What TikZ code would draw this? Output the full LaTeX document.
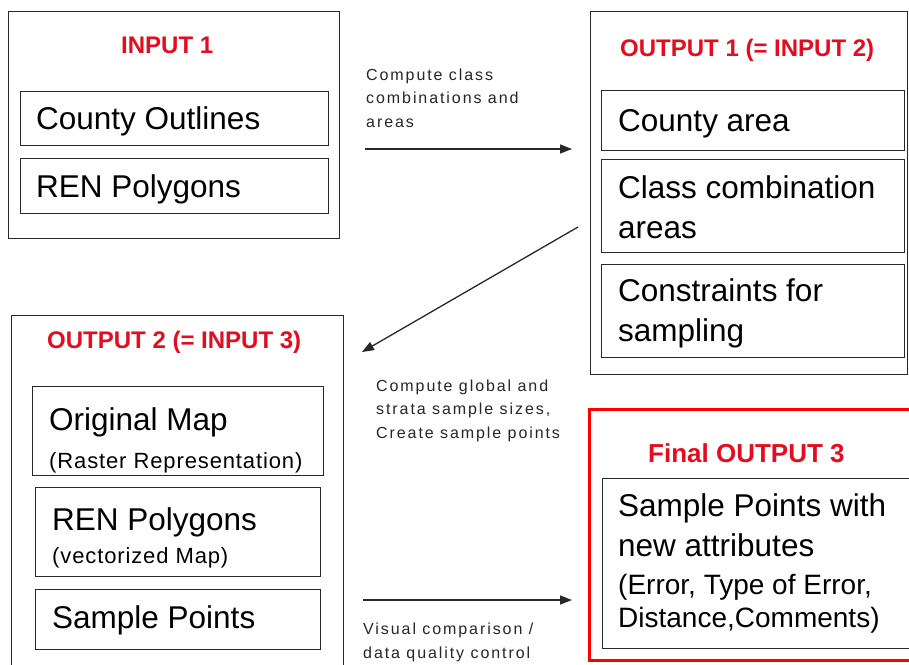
\documentclass[tikz,border=0pt]{standalone}
\usepackage{fontspec}
\setmainfont{Liberation Sans}
\newfontfamily\lblfamily[LetterSpace=12]{Liberation Sans}
\newfontfamily\subfamily[LetterSpace=4]{Liberation Sans}
\usetikzlibrary{arrows.meta}
\definecolor{titlered}{RGB}{228,12,30}
\definecolor{boxline}{RGB}{40,40,40}
\tikzset{
  frame/.style={draw=boxline, line width=1.3pt, anchor=north west, inner sep=0pt, fill=none},
  redframe/.style={draw=red, line width=3pt, anchor=north west, inner sep=0pt},
  ttl/.style={text=titlered, anchor=base west, inner sep=0pt, font=\bfseries\fontsize{24}{28}\selectfont},
  body/.style={anchor=base west, inner sep=0pt, align=left, font=\fontsize{31.5}{39.5}\selectfont},
  bodysm/.style={anchor=base west, inner sep=0pt, align=left, font=\fontsize{28}{33}\selectfont},
  sub/.style={anchor=base west, inner sep=0pt, font=\subfamily\fontsize{22}{26}\selectfont},
  lbl/.style={anchor=base west, inner sep=0pt, align=left, text=black!85, font=\lblfamily\fontsize{16}{23.5}\selectfont},
  flow/.style={draw=boxline, line width=1.3pt, -{Triangle[length=12pt,width=9pt]}}
}
\begin{document}
\begin{tikzpicture}[x=1pt,y=-1pt]
\useasboundingbox (0,0) rectangle (909,664);
\clip (0,0) rectangle (909,664);
\fill[white] (0,0) rectangle (909,664);

% INPUT 1
\node[frame, minimum width=331pt, minimum height=227pt] (in1) at (8,11) {};
\node[ttl] (in1t) at (121,53) {INPUT 1};
\node[frame, minimum width=308pt, minimum height=54pt] (co) at (20,91) {};
\node[body] (cot) at (36,129) {County Outlines};
\node[frame, minimum width=308pt, minimum height=55pt] (rp) at (20,158) {};
\node[body] (rpt) at (36,197) {REN Polygons};

% OUTPUT 1
\node[frame, minimum width=317pt, minimum height=363pt] (o1) at (590,11) {};
\node[ttl] (o1t) at (620,56) {OUTPUT 1 (= INPUT 2)};
\node[frame, minimum width=303pt, minimum height=60pt] (ca) at (601,90) {};
\node[body] (cat) at (618,131) {County area};
\node[frame, minimum width=303pt, minimum height=93pt] (cc) at (601,159) {};
\node[body] (cct) at (618,238) {Class combination\\areas};
\node[frame, minimum width=303pt, minimum height=93pt] (cs) at (601,264) {};
\node[body] (cst) at (618,341) {Constraints for\\sampling};

% OUTPUT 2
\node[frame, minimum width=332pt, minimum height=400pt] (o2) at (11,315) {};
\node[ttl] (o2t) at (47,348) {OUTPUT 2 (= INPUT 3)};
\node[frame, minimum width=291pt, minimum height=89pt] (om) at (32,386) {};
\node[body] (omt) at (49,430) {Original Map};
\node[sub] (oms) at (49,468) {(Raster Representation)};
\node[frame, minimum width=285pt, minimum height=89pt] (rp2) at (35,487) {};
\node[body] (rp2t) at (52,530) {REN Polygons};
\node[sub] (rp2s) at (52,563) {(vectorized Map)};
\node[frame, minimum width=285pt, minimum height=60pt] (sp) at (35,589) {};
\node[body] (spt) at (52,628) {Sample Points};

% Final OUTPUT 3
\node[redframe, minimum width=340pt, minimum height=251pt] (f3) at (588,408) {};
\node[ttl, font=\bfseries\fontsize{26}{30}\selectfont] (f3t) at (648,462) {Final OUTPUT 3};
\node[frame, minimum width=320pt, minimum height=170pt] (sa) at (602,478) {};
\node[body] (sat) at (618,556) {Sample Points with\\new attributes};
\node[bodysm] (sae) at (618,627) {(Error, Type of Error,\\Distance,Comments)};

% connectors
\coordinate (a1s) at (365,149);
\coordinate (a1e) at (572,149);
\coordinate (a2s) at (578,227);
\coordinate (a2e) at (362,352);
\coordinate (a3s) at (363,600);
\coordinate (a3e) at (572,600);
\draw[flow] (a1s) -- (a1e);
\draw[flow] (a2s) -- (a2e);
\draw[flow] (a3s) -- (a3e);

\node[lbl] (l1) at (366,127) {Compute class\\combinations and\\areas};
\node[lbl] (l2) at (376,438) {Compute global and\\strata sample sizes,\\Create sample points};
\node[lbl] (l3) at (363,658) {Visual comparison /\\data quality control};
\end{tikzpicture}
\end{document}
